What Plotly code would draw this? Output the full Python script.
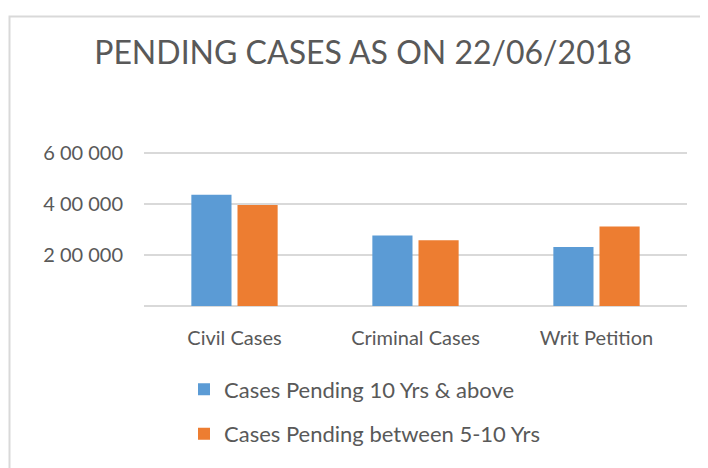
import plotly.graph_objects as go

categories = ["Civil Cases", "Criminal Cases", "Writ Petition"]
series_names = ["Cases Pending 10 Yrs & above", "Cases Pending between 5-10 Yrs"]
pending_10_plus = [435000, 276000, 231000]
pending_5_10 = [395000, 257000, 311000]
tick_vals = [0, 200000, 400000, 600000]
tick_text = ["", "2 00 000", "4 00 000", "6 00 000"]
colors = ["#5B9BD5", "#ED7D31"]

FONT = "Lato"
OFF = 8  # page body margin
W, H = 700, 460
L = 144 - OFF
R = W - (687 - OFF)
T = 143
B = H - (315 - OFF)
pw, ph = W - L - R, H - T - B

def px_x(p):
    return (p - OFF - L) / pw

def px_y(p):
    return (H - B - (p - OFF)) / ph

fig = go.Figure()
for i, (name, vals) in enumerate(zip(series_names, [pending_10_plus, pending_5_10])):
    fig.add_trace(go.Bar(
        x=categories, y=vals, name=name, marker_color=colors[i],
        marker_line_width=0, legendgroup=f"g{i}",
    ))

fig.update_layout(
    width=W, height=H,
    margin=dict(l=L, r=R, t=T, b=B),
    paper_bgcolor="white", plot_bgcolor="white",
    barmode="group", bargap=0.49, bargroupgap=0.13,
    title=dict(text="PENDING CASES AS ON 22/06/2018", x=(363 - OFF) / W,
               xref="container", xanchor="center",
               y=1 - (53 - OFF) / H, yanchor="middle",
               font=dict(family=FONT, size=32, color="#595959")),
    font=dict(family=FONT, color="#595959"),
    xaxis=dict(showgrid=False, showline=False, ticks="", zeroline=False,
               tickfont=dict(size=20, color="#595959"), ticklabelstandoff=18),
    yaxis=dict(range=[0, 606000], tickvals=tick_vals, ticktext=tick_text,
               showgrid=True, gridcolor="#d9d9d9", gridwidth=1.5,
               zeroline=True, zerolinecolor="#d9d9d9", zerolinewidth=1.5,
               showline=False, ticks="", ticklabelstandoff=20,
               tickfont=dict(size=20, color="#595959")),
    showlegend=True,
    legend=dict(orientation="v", x=px_x(184), xanchor="left",
                y=px_y(381), yanchor="top", tracegroupgap=13,
                font=dict(size=22, color="#595959"),
                itemwidth=30, bgcolor="rgba(0,0,0,0)"),
    shapes=[dict(type="rect", xref="paper", yref="paper",
                 x0=px_x(9.5), x1=px_x(760), y0=px_y(520), y1=px_y(8.8),
                 line=dict(color="#d9d9d9", width=2), layer="below")],
)

fig.write_html("out.html")
